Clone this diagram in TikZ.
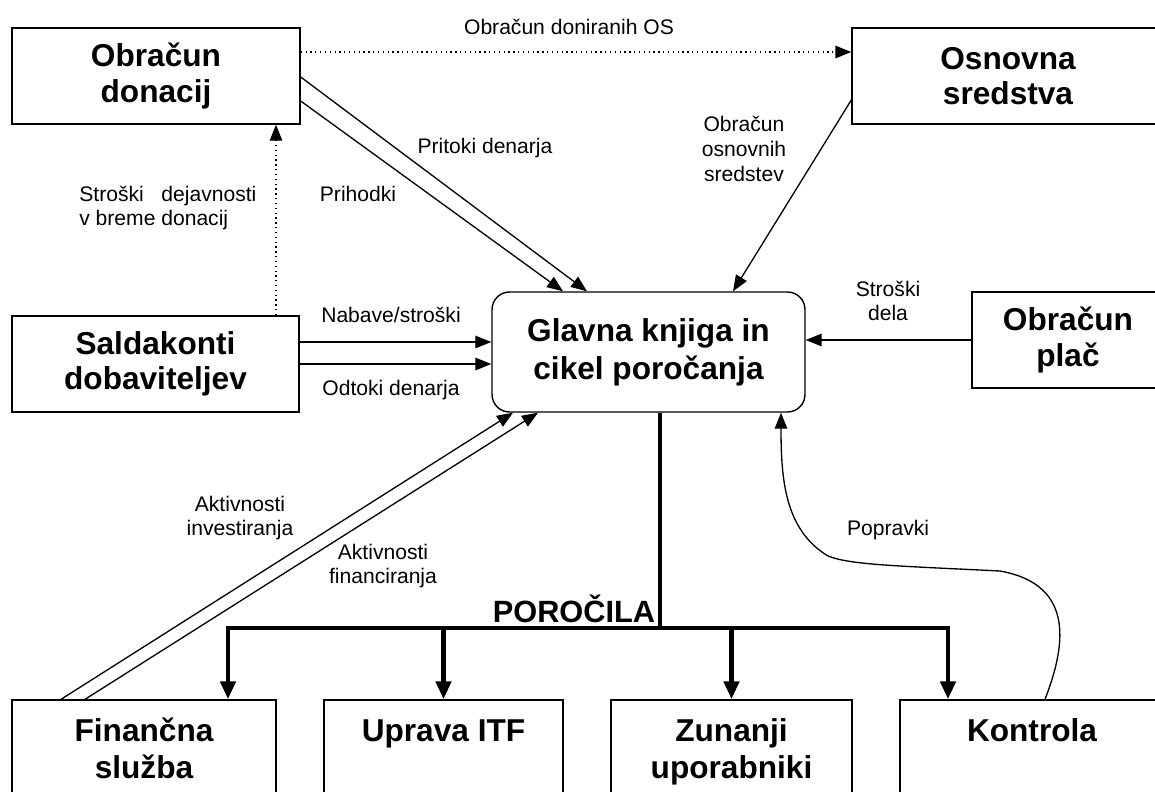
\documentclass[tikz,border=0pt]{standalone}
\usepackage{fontspec}
\setmainfont{Liberation Sans}
\usetikzlibrary{arrows.meta}

\begin{document}
\begin{tikzpicture}[x=0.02cm,y=-0.02cm,
        box/.style={draw,rectangle,line width=0.8pt,minimum height=1.92cm,align=center,font=\fontsize{18}{20}\selectfont\bfseries},
        botbox/.style={box,minimum height=2.1cm,font=\fontsize{18}{21}\selectfont\bfseries},
        lbl/.style={inner sep=0pt,align=center,font=\fontsize{12}{14}\selectfont},
        flow/.style={line width=0.75pt,-{Triangle[length=0.32cm,width=0.25cm]}},
        bar/.style={line width=2.6pt},
        bararrow/.style={bar,-{Triangle[length=0.36cm,width=0.3cm]}}]
        \clip (0,0) rectangle (1155,791);

        \node[box,minimum width=5.76cm] (don) at (156,76) {Obračun\\donacij};
        \node[box,minimum width=6.24cm] (os) at (1008,76) {Osnovna\\sredstva};
        \node[box,minimum width=5.74cm] (sal) at (155.5,364) {Saldakonti\\dobaviteljev};
        \node[box,minimum width=3.84cm] (pl) at (1068,340) {Obračun\\plač};
        \node[box,rounded corners=0.35cm,minimum width=6.26cm,minimum height=2.4cm,font=\fontsize{18}{21.5}\selectfont\bfseries] (gk) at (648.5,352) {Glavna knjiga in\\cikel poročanja};

        \node[botbox,minimum width=5.28cm] (fin) at (144,752.5) {\strut Finančna\\služba\strut};
        \node[botbox,minimum width=4.78cm] (up) at (443.5,752.5) {\strut Uprava ITF\\\strut};
        \node[botbox,minimum width=4.82cm] (zu) at (731.5,752.5) {\strut Zunanji\\uporabniki\strut};
        \node[botbox,minimum width=5.28cm] (ko) at (1032,752.5) {\strut Kontrola\\\strut};

        \node[inner sep=0pt,font=\fontsize{17.5}{20}\selectfont\bfseries] (por) at (574,609) {POROČILA};

        \node[lbl] (lbldos) at (569,27) {Obračun doniranih OS};
        \node[lbl] (lblpri) at (485,148) {Pritoki denarja};
        \node[lbl] (lblprih) at (358,194) {Prihodki};
        \node[lbl,anchor=west,align=left] (lblstr) at (79,208) {Stroški\hspace{0.84em}dejavnosti\\v breme donacij};
        \node[lbl] (lblos) at (744,149) {Obračun\\osnovnih\\sredstev};
        \node[lbl] (lblnab) at (391,315) {Nabave/stroški};
        \node[lbl] (lblodt) at (391,390) {Odtoki denarja};
        \node[lbl] (lbldel) at (888,301) {Stroški\\dela};
        \node[lbl] (lblpop) at (888,530) {Popravki};
        \node[lbl] (lblinv) at (240,518) {Aktivnosti\\investiranja};
        \node[lbl] (lblfin) at (383,566) {Aktivnosti\\financiranja};

        \draw[flow,dotted] (don.east |- 0,52) -- (os.west |- 0,52);
        \draw[flow,dotted] (sal.north -| 276,0) -- (don.south -| 276,0);

        \draw[flow] (don.east |- 0,77) -- (gk.north -| 587,0);
        \draw[flow] (don.east |- 0,101) -- (gk.north -| 563,0);
        \draw[flow] (os.west |- 0,100) -- (gk.north -| 733,0);

        \draw[flow] (sal.east |- 0,342) -- (gk.west |- 0,342);
        \draw[flow] (sal.east |- 0,364) -- (gk.west |- 0,364);
        \draw[flow] (pl.west) -- (gk.east |- pl.west);

        \draw[flow] (fin.north -| 61,0) -- (gk.south -| 513,0);
        \draw[flow] (fin.north -| 85,0) -- (gk.south -| 538,0);

        \draw[flow] (ko.north -| 1045,0) .. controls (1064,650) and (1078,585) .. (1000,571)
            .. controls (900,566) and (850,565) .. (828,556)
            .. controls (785,530) and (781,480) .. (gk.south -| 781,0);

        \coordinate (split) at (660,628);
        \coordinate (barL) at (228,628);
        \coordinate (barR) at (948,628);
        \draw[bar] (gk.south -| split) -- (split);
        \draw[bararrow] (split) -| (fin.north -| barL);
        \draw[bararrow] (split) -| (ko.north -| barR);
        \draw[bararrow] (split -| up.north) -- (up.north);
        \draw[bararrow] (split -| zu.north) -- (zu.north);
    \end{tikzpicture}
\end{document}
